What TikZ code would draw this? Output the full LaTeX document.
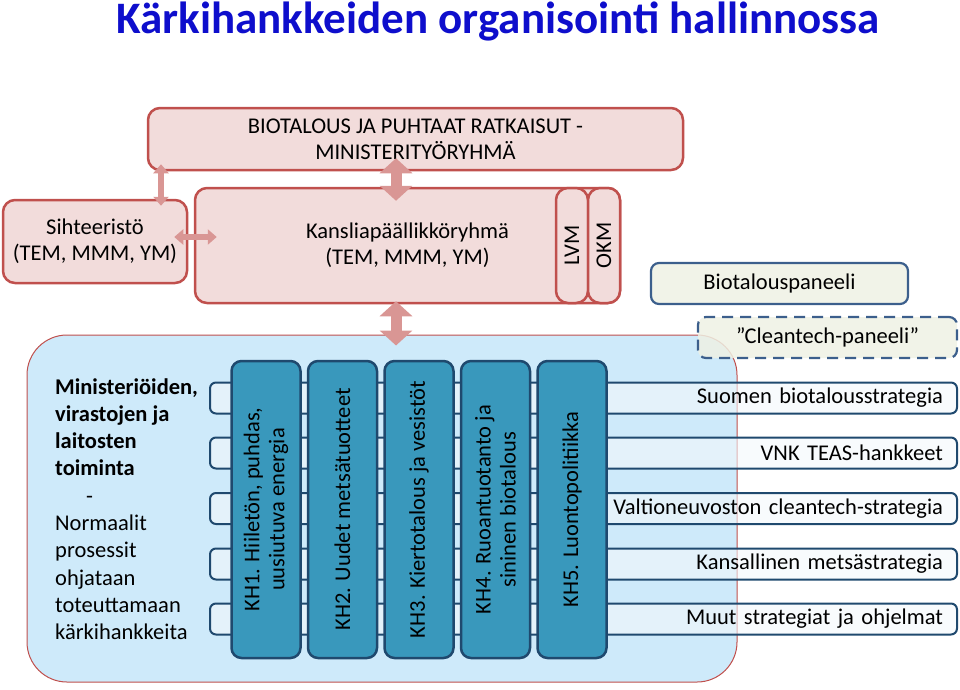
\documentclass[tikz,border=0pt]{standalone}
\usepackage{fontspec}
\setmainfont{Carlito}
\usetikzlibrary{arrows.meta,positioning}
\definecolor{KAtitle}{RGB}{14,14,204}
\definecolor{KApink}{RGB}{242,220,219}
\definecolor{KAred}{RGB}{192,80,77}
\definecolor{KAarrow}{RGB}{217,150,148}
\definecolor{KAsky}{RGB}{206,234,250}
\definecolor{KAteal}{RGB}{57,152,188}
\definecolor{KAnavy}{RGB}{31,73,110}
\definecolor{KAbar}{RGB}{244,248,251}
\definecolor{KApanel}{RGB}{238,241,228}
\definecolor{KAblue}{RGB}{60,95,140}
\tikzset{
  redbox/.style={rounded corners=12pt,draw=KAred,line width=2.5pt,fill=KApink,
                 align=center,font=\fontsize{22.5}{26}\selectfont,inner sep=0pt},
  strip/.style={redbox,rotate=90,minimum width=115pt,minimum height=32pt},
  panel/.style={rounded corners=8pt,draw=KAblue,line width=2.2pt,fill=KApanel,
                fill opacity=0.85,text opacity=1,font=\fontsize{22.5}{26}\selectfont,
                minimum height=41pt,inner sep=0pt},
  workarea/.style={rounded corners=40pt,draw=KAred,line width=1pt,fill=KAsky,
                   minimum width=710pt,minimum height=347pt},
  strategy/.style={rounded corners=6pt,draw=KAnavy,line width=2pt,fill=KAbar,
                   fill opacity=0.6,text opacity=1,minimum height=31pt,
                   text width=719pt,inner xsep=14pt,inner ysep=0pt,align=right,
                   font=\fontsize{22.5}{26}\selectfont},
  kh/.style={rounded corners=10pt,draw=KAnavy,line width=2.5pt,fill=KAteal,
             rotate=90,minimum width=297pt,minimum height=69pt,align=center,
             inner sep=0pt,font=\fontsize{22.5}{25}\selectfont},
  fatarr/.style={{Triangle[length=15pt,width=32pt]}-{Triangle[length=15pt,width=32pt]},
                 line width=11pt,draw=KAarrow},
  thinarr/.style={{Triangle[length=9pt,width=15pt]}-{Triangle[length=9pt,width=15pt]},
                  line width=6.5pt,draw=KAarrow}
}
\begin{document}
\begin{tikzpicture}[x=1pt,y=-1pt]
  \useasboundingbox (0,0) rectangle (960,689);
  \node[font=\fontsize{45}{50}\selectfont\bfseries,text=KAtitle] (title) at (498,21)
    {Kärkihankkeiden organisointi hallinnossa};
  % ministerial level
  \node[redbox,minimum width=535pt,minimum height=62pt] (mtr) at (415.5,139)
    {BIOTALOUS JA PUHTAAT RATKAISUT -\\MINISTERITYÖRYHMÄ};
  \node[redbox,minimum width=184pt,minimum height=83pt] (siht) at (95,241.5)
    {Sihteeristö\\(TEM, MMM, YM)};
  \node[redbox,minimum width=425pt,minimum height=115pt] (kansli) at (407.5,245.5)
    {Kansliapäällikköryhmä\\(TEM, MMM, YM)};
  \node[strip] (lvm) at (572,245.5) {LVM};
  \node[strip] (okm) at (604,245.5) {OKM};
  \node[panel,minimum width=257pt] (biopan) at (779.5,283.5) {Biotalouspaneeli};
  % work area
  \node[workarea] (work) at (382,508.5) {};
  \node[strategy] (st1) at (583.5,398) {Suomen biotalousstrategia};
  \node[strategy] (st2) at (583.5,453) {VNK TEAS-hankkeet};
  \node[strategy] (st3) at (583.5,508.5) {Valtioneuvoston cleantech-strategia};
  \node[strategy] (st4) at (583.5,564) {Kansallinen metsästrategia};
  \node[strategy] (st5) at (583.5,619) {Muut strategiat ja ohjelmat};
  \node[kh] (kh1) at (266,509.5) {KH1. Hiiletön, puhdas,\\uusiutuva energia};
  \node[kh] (kh2) at (342.5,509.5) {KH2. Uudet metsätuotteet};
  \node[kh] (kh3) at (419,509.5) {KH3. Kiertotalous ja vesistöt};
  \node[kh] (kh4) at (495.5,509.5) {KH4. Ruoantuotanto ja\\sininen biotalous};
  \node[kh] (kh5) at (572,509.5) {KH5. Luontopolitiikka};
  \node[panel,dash pattern=on 11pt off 7pt,minimum width=259pt] (cleanpan) at (827.5,337.5)
    {”Cleantech-paneeli”};
  \node[anchor=north west,align=left,inner sep=0pt,
        font=\fontsize{22.5}{27.3}\selectfont] (toim) at (55,378)
    {\textbf{Ministeriöiden,}\\\textbf{virastojen ja}\\\textbf{laitosten}\\\textbf{toiminta}\\
     \hspace*{31pt}-\\Normaalit\\prosessit\\ohjataan\\toteuttamaan\\kärkihankkeita};
  % connections
  \coordinate (ax) at (396,0);
  \coordinate (sx) at (161,0);
  \coordinate (hy) at (0,237);
  \draw[fatarr,shorten <=-13pt,shorten >=-14pt] (mtr.south -| ax) -- (kansli.north -| ax);
  \draw[fatarr,shorten <=-3pt,shorten >=-11pt] (kansli.south -| ax) -- (work.north -| ax);
  \draw[thinarr,shorten <=-7pt,shorten >=-7pt] (mtr.south -| sx) -- (siht.north -| sx);
  \draw[thinarr,shorten <=-14pt,shorten >=-23pt] (siht.east |- hy) -- (kansli.west |- hy);
\end{tikzpicture}
\end{document}
